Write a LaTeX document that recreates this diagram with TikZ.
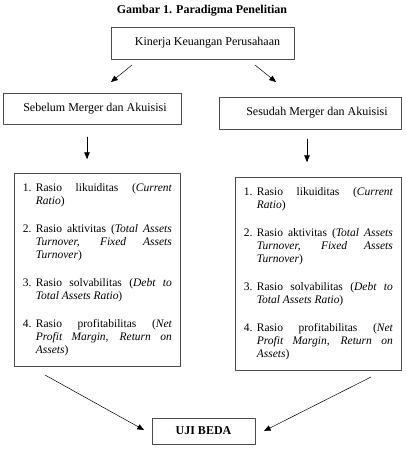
\documentclass[tikz,border=0pt]{standalone}
\usepackage{fontspec}
\setmainfont{Liberation Serif}
\usetikzlibrary{arrows}
\tikzset{
  kotak/.style={draw=black!70, line width=0.7pt, inner sep=0pt},
  daftar/.style={kotak, anchor=north west, text width=149pt, align=justify, inner xsep=8.5pt, inner ysep=5pt, minimum height=193pt, font=\fontsize{11.5}{13}\selectfont}
}
\newcommand{\butir}[2]{\noindent\hangindent=13pt\hangafter=1\makebox[13pt][l]{#1}#2\par}
\newcommand{\isidaftar}{\hyphenpenalty=10000\exhyphenpenalty=10000\lefthyphenmin=64%
  \butir{1.}{Rasio likuiditas (\textit{Current Ratio})}%
  \setlength{\parskip}{15pt}%
  \butir{2.}{Rasio aktivitas (\textit{Total Assets Turnover, Fixed Assets Turnover})}%
  \butir{3.}{Rasio solvabilitas (\textit{Debt to Total Assets Ratio})}%
  \butir{4.}{Rasio profitabilitas (\textit{Net Profit Margin, Return on Assets})}}
\begin{document}
\begin{tikzpicture}[line cap=round,line join=round,>=triangle 45,x=1pt,y=-1pt]
\useasboundingbox (0,0) rectangle (406,468);
% Judul
\node[font=\bfseries\fontsize{12}{14}\selectfont] (judul) at (202,11) {Gambar 1. Paradigma Penelitian};

% Kotak-kotak
\node[kotak, minimum width=183pt, minimum height=32pt] (kinerja) at (202.5,43) {\fontsize{12}{14}\selectfont\hspace*{10pt}Kinerja Keuangan Perusahaan};
\node[kotak, minimum width=178pt, minimum height=31pt] (sebelum) at (92,108.5) {\fontsize{12}{14}\selectfont\hspace*{6pt}Sebelum Merger dan Akuisisi};
\node[kotak, minimum width=182pt, minimum height=32pt] (sesudah) at (310,113) {\fontsize{12}{14}\selectfont\hspace*{14pt}Sesudah Merger dan Akuisisi};
\node[daftar] (rasioA) at (14,173) {\isidaftar};
\node[daftar] (rasioB) at (235,177) {\isidaftar};
\node[kotak, minimum width=103pt, minimum height=26pt] (uji) at (203.5,431) {\bfseries\fontsize{12}{14}\selectfont UJI BEDA};

% Titik ujung panah
\coordinate (kiA) at (132,65);  \coordinate (kiB) at (111,82);
\coordinate (kaA) at (255,65);  \coordinate (kaB) at (276,82);
\coordinate (tA) at (87,137);   \coordinate (tB) at (87,159);
\coordinate (sA) at (307,139);  \coordinate (sB) at (307,162);
\coordinate (bA) at (45,375);   \coordinate (bB) at (144,430);
\coordinate (cA) at (371,377);  \coordinate (cB) at (264,431);

% Panah
\draw[->,color=black,line width=0.5pt] (kiA) -- (kiB);
\draw[->,color=black,line width=0.5pt] (kaA) -- (kaB);
\draw[->,color=black,line width=0.5pt] (tA) -- (tB);
\draw[->,color=black,line width=0.5pt] (sA) -- (sB);
\draw[->,color=black,line width=0.5pt] (bA) -- (bB);
\draw[->,color=black,line width=0.5pt] (cA) -- (cB);
\end{tikzpicture}
\end{document}
